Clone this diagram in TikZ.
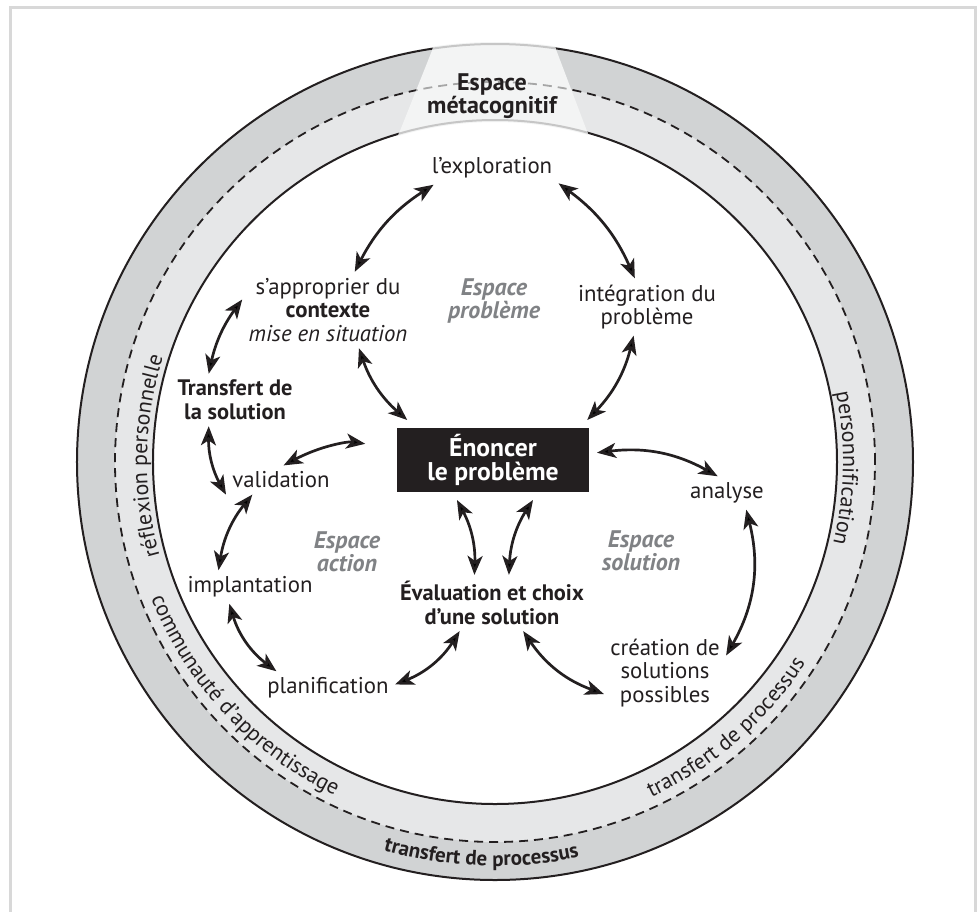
\documentclass[tikz,border=0pt]{standalone}
\usepackage{fontspec}
\setmainfont{PT Sans}
\usetikzlibrary{arrows.meta,decorations.text}
\definecolor{anneaufonce}{RGB}{209,211,212}
\definecolor{anneauclair}{RGB}{230,231,232}
\definecolor{metazone}{RGB}{243,244,244}
\definecolor{cadregris}{RGB}{216,216,216}
\definecolor{espacegris}{RGB}{128,130,133}
\definecolor{encre}{RGB}{35,31,32}

\tikzset{
  etape/.style={font=\fontsize{11.4}{11.8}\selectfont, text=encre, align=center, inner sep=3pt},
  etapegras/.style={etape, font=\fontsize{11.2}{11.8}\selectfont\bfseries},
  espace/.style={font=\fontsize{12}{11.4}\selectfont\bfseries\itshape, text=espacegris, align=center},
  fleche/.style={{Stealth[length=9.5pt,width=7.5pt,inset=2.5pt]}-{Stealth[length=9.5pt,width=7.5pt,inset=2.5pt]},
    line width=1.35pt, draw=encre},
  anneautexte/.style={decorate, decoration={text along path, text align=center, text color=encre}},
}

\begin{document}
\begin{tikzpicture}[x=0.5pt,y=0.5pt]
    \useasboundingbox (-495,462) rectangle (483,-449);

    % Cadre
    \draw[cadregris, line width=1.5pt] (-484,454) rectangle (480,-470);

    % Anneaux
    \fill[anneaufonce] (0,0) circle[radius=418];
    \fill[anneauclair] (0,0) circle[radius=380];
    \fill[white] (0,0) circle[radius=342];
    \draw[encre, line width=1pt] (0,0) circle[radius=418];
    \draw[encre, line width=1pt] (0,0) circle[radius=342];
    \draw[encre, line width=0.9pt, dash pattern=on 4.5pt off 3pt] (0,0) circle[radius=380];

    % Zone metacognitive
    \begin{scope}
        \clip (-52,439) -- (51,439) -- (109,286) -- (-113,286) -- cycle;
        \fill[metazone, even odd rule] (0,0) circle[radius=420] (0,0) circle[radius=340];
        \draw[gray!45, line width=1pt] (0,0) circle[radius=418];
        \draw[gray!45, line width=1pt] (0,0) circle[radius=342];
        \draw[gray!70, line width=0.9pt, dash pattern=on 4.5pt off 3pt] (0,0) circle[radius=380];
    \end{scope}
    \node[etapegras, font=\fontsize{12}{11.5}\selectfont\bfseries] (metacog) at (-3,366) {Espace\\métacognitif};

    % Textes de l'anneau
    \path[anneautexte, decoration={text={|\fontsize{11}{12}\selectfont|réflexion personnelle}}]
        (224:348) arc[start angle=224, end angle=134, radius=348];
    \path[anneautexte, decoration={text={|\fontsize{11}{12}\selectfont|personnification}}]
        (44:348) arc[start angle=44, end angle=-46, radius=348];
    \path[anneautexte, decoration={text={|\fontsize{11}{12}\selectfont|communauté d’apprentissage}}]
        (173:370) arc[start angle=173, end angle=273, radius=370];
    \path[anneautexte, decoration={text={|\fontsize{11}{12}\selectfont|transfert de processus}}]
        (266:370) arc[start angle=266, end angle=356, radius=370];
    \path[anneautexte, decoration={text={|\fontsize{10.5}{12}\selectfont\bfseries|transfert de processus}}]
        (223:404) arc[start angle=223, end angle=313, radius=404];

    % Etapes
    \node[fill=encre, text=white, font=\fontsize{12.8}{12}\selectfont\bfseries, align=center,
        minimum width=96pt, minimum height=32pt, inner sep=0pt, outer sep=4pt] (enoncer) at (-2,2) {Énoncer\\le problème};
    \node[etape] (explo) at (-3,294) {l’exploration};
    \node[etape] (contexte) at (-167,152) {s’approprier du\\\textbf{contexte}\\\textit{mise en situation}};
    \node[etape] (integration) at (152,155) {intégration du\\problème};
    \node[etapegras] (transfert) at (-260,62) {Transfert de\\la solution};
    \node[etape] (validation) at (-214,-18) {validation};
    \node[etape] (implantation) at (-245,-125) {implantation};
    \node[etape] (planification) at (-167,-226) {planification};
    \node[etapegras] (evaluation) at (-3,-141) {Évaluation et choix\\d’une solution};
    \node[etape] (analyse) at (232,-31) {analyse};
    \node[etape] (creation) at (170,-211) {création de\\solutions\\possibles};

    % Espaces
    \node[espace] (espprob) at (-1,161) {Espace\\problème};
    \node[espace] (espaction) at (-148,-90) {Espace\\action};
    \node[espace] (espsol) at (146,-89) {Espace\\solution};

    % Fleches
    \draw[fleche] (explo.196) to[bend right=15] (contexte.55);
    \draw[fleche] (explo.-13) to[bend left=15] (integration.113);
    \draw[fleche] (contexte.-51) to[bend right=15] (enoncer.155);
    \draw[fleche] (integration.245) to[bend left=15] (enoncer.23);
    \draw[fleche] (contexte.173) to[bend right=12] (transfert.135);
    \draw[fleche] (transfert.225) to[bend right=15] (validation.south west);
    \draw[fleche] (validation.207) to[bend right=15] (implantation.152);
    \draw[fleche, shorten >=12pt] (validation.80) to[bend left=18] (enoncer.173);
    \draw[fleche] (implantation.219) to[bend right=18] (planification.162);
    \draw[fleche] (planification.3) to[bend right=18] (evaluation.221);
    \draw[fleche] (enoncer.228) to[bend left=15] (evaluation.122);
    \draw[fleche] (enoncer.-45) to[bend right=15] (evaluation.59);
    \draw[fleche] (enoncer.4) to[bend left=18] (analyse.119);
    \draw[fleche] (analyse.-41) to[bend left=22] (creation.16);
    \draw[fleche] (evaluation.-42) to[bend right=18] (creation.199);
\end{tikzpicture}
\end{document}
